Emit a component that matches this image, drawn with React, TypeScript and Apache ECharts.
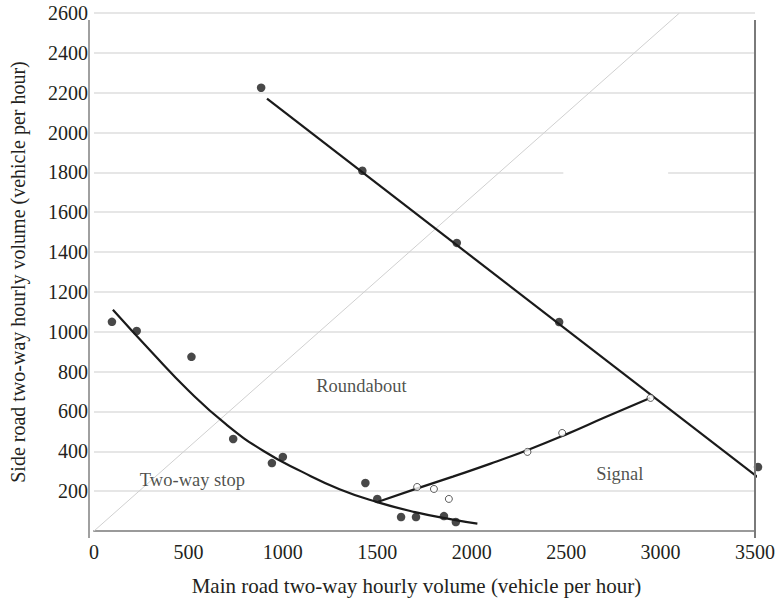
import React, { useEffect, useRef } from "react";
import * as echarts from "echarts";

// Observed points (vehicle per hour)
const filledPoints: [number, number][] = [
  [95, 1050], [226, 1004], [516, 874], [737, 462], [942, 341], [1000, 372],
  [1437, 241], [1500, 161], [1626, 70], [1705, 70], [1853, 75], [1916, 45],
  [885, 2225], [1421, 1808], [1921, 1446], [2463, 1049], [3516, 321],
];
const openPoints: [number, number][] = [
  [1711, 221], [1800, 211], [1879, 161], [2295, 397], [2479, 492], [2947, 668],
];

// Boundary curves
const stopCurve: [number, number][] = [
  [100, 1110], [300, 903], [500, 705], [700, 535], [900, 400],
  [1100, 298], [1300, 210], [1500, 145], [1700, 95], [1900, 57], [2030, 37],
];
const signalCurve: [number, number][] = [
  [1505, 147], [1700, 210], [1900, 273], [2100, 338], [2300, 408],
  [2500, 485], [2700, 568], [2945, 668],
];
const roundaboutLine: [number, number][] = [[916, 2170], [3547, 246]];
const diagonalLine: [number, number][] = [[0, 0], [3100, 2600]];

const regionLabels: { name: string; value: [number, number] }[] = [
  { name: "Roundabout", value: [1416, 728] },
  { name: "Two-way stop", value: [521, 256] },
  { name: "Signal", value: [2784, 286] },
];

const xMin = 0, xMax = 3500, xInterval = 500;
const yMin = 0, yMax = 2600, yInterval = 200;

const FONT = "'Liberation Serif', 'Times New Roman', serif";
const TEXT = "#231f20";

export default function App() {
  const ref = useRef<HTMLDivElement>(null);
  useEffect(() => {
    if (!ref.current) return;
    const chart = echarts.init(ref.current, null, { renderer: "svg" });
    chart.setOption({
      animation: false,
      backgroundColor: "#fff",
      textStyle: { fontFamily: FONT },
      grid: { left: 89, right: 25, top: 13, bottom: 71 },
      xAxis: {
        type: "value",
        min: xMin, max: xMax, interval: xInterval,
        offset: 7,
        name: "Main road two-way hourly volume (vehicle per hour)",
        nameLocation: "middle",
        nameGap: 37,
        nameTextStyle: { fontFamily: FONT, fontSize: 21, color: TEXT, padding: [0, 16, 0, 0] },
        axisLine: { show: true, lineStyle: { color: "#9a9a9a", width: 2 } },
        axisTick: { show: false },
        axisLabel: {
          fontFamily: FONT, fontSize: 20, color: TEXT, margin: 4,
          formatter: (v: number) => String(v),
        },
        splitLine: { show: false },
      },
      yAxis: {
        type: "value",
        min: yMin, max: yMax, interval: yInterval,
        name: "Side road two-way hourly volume (vehicle per hour)",
        nameLocation: "middle",
        nameGap: 66,
        nameTextStyle: { fontFamily: FONT, fontSize: 20, color: TEXT },
        axisLine: { show: false },
        axisTick: { show: false },
        axisLabel: {
          fontFamily: FONT, fontSize: 20, color: TEXT, margin: 6,
          formatter: (v: number) => (v === 0 ? "" : String(v)),
        },
        splitLine: { show: true, lineStyle: { color: "#dedede", width: 1.5 } },
      },
      graphic: [
        { type: "line", shape: { x1: 89, y1: 20, x2: 89, y2: 538 }, style: { stroke: "#a0a0a0", lineWidth: 2 }, z: 10 },
        { type: "line", shape: { x1: 755, y1: 20, x2: 755, y2: 538 }, style: { stroke: "#7a7a7a", lineWidth: 2 }, z: 10 },
      ],
      series: [
        {
          type: "line", data: diagonalLine, symbol: "none", silent: true,
          lineStyle: { color: "#d0d0d0", width: 1 }, z: 1,
          markLine: {
            silent: true, symbol: "none", label: { show: false },
            lineStyle: { color: "#ffffff", width: 3, type: "solid" },
            data: [[{ coord: [2485, 1800] }, { coord: [3040, 1800] }]],
          },
        },
        {
          type: "line", data: roundaboutLine, symbol: "none", clip: false,
          lineStyle: { color: "#1a1a1a", width: 2.2 }, z: 3,
        },
        {
          type: "line", data: stopCurve, symbol: "none", smooth: 0.5,
          lineStyle: { color: "#1a1a1a", width: 2.2 }, z: 3,
        },
        {
          type: "line", data: signalCurve, symbol: "none", smooth: 0.5,
          lineStyle: { color: "#1a1a1a", width: 2.2 }, z: 3,
        },
        {
          type: "scatter", data: filledPoints, symbol: "circle", symbolSize: 8.5,
          itemStyle: { color: "#1a1a1a" }, z: 4, clip: false,
        },
        {
          type: "scatter", data: openPoints, symbol: "circle", symbolSize: 7,
          itemStyle: { color: "#ffffff", borderColor: "#333", borderWidth: 1 }, z: 5,
        },
        {
          type: "scatter", data: regionLabels, symbolSize: 0, z: 6,
          label: {
            show: true, position: "inside", formatter: "{b}",
            fontFamily: FONT, fontSize: 18.5, color: TEXT,
          },
        },
      ],
    });
    return () => chart.dispose();
  }, []);
  return (
    <div
      ref={ref}
      style={{ position: "fixed", left: 0, top: 0, width: 780, height: 602 }}
    />
  );
}
